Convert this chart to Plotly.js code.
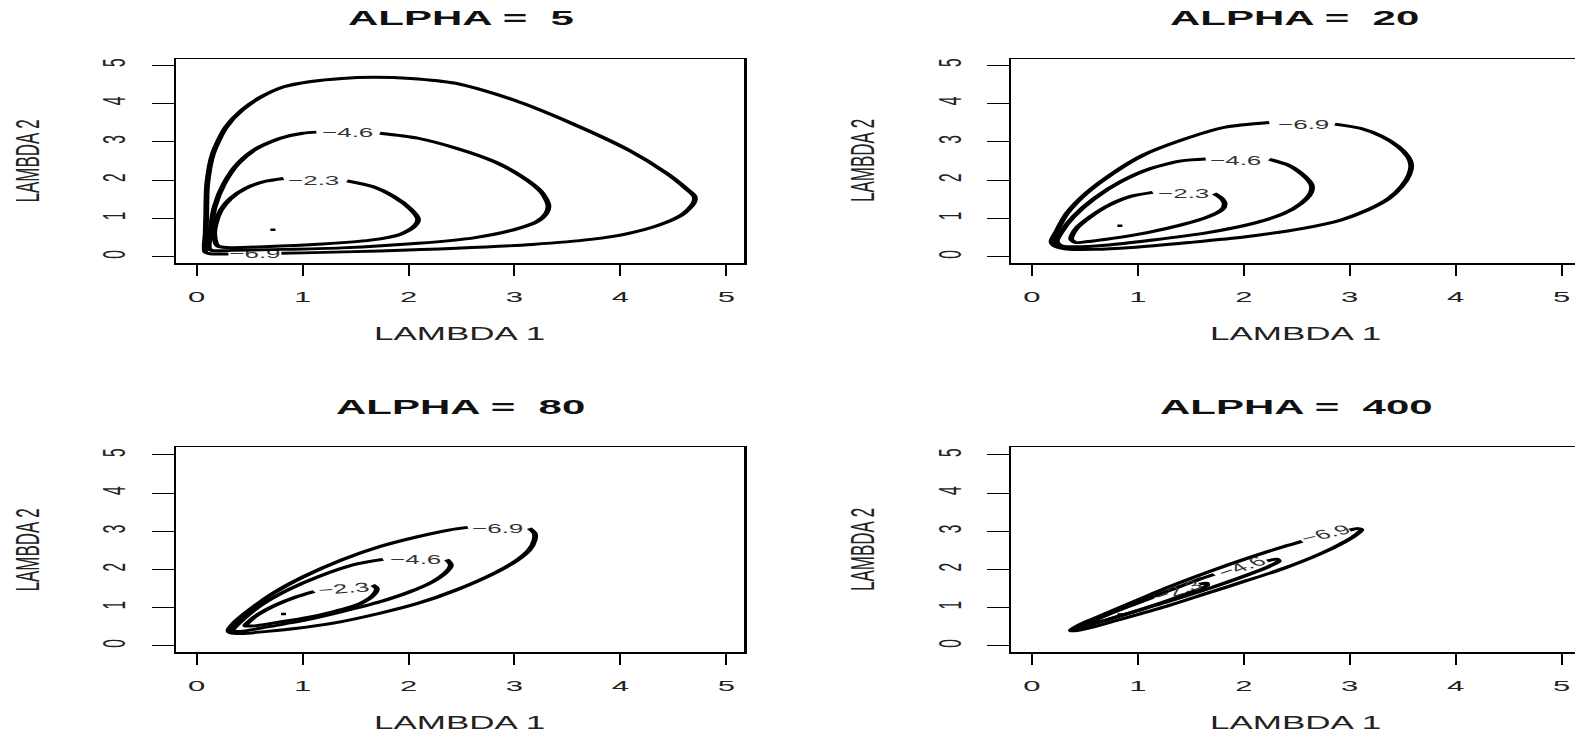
<!DOCTYPE html>
<html><head><meta charset="utf-8">
<script src="https://cdn.plot.ly/plotly-3.0.1.min.js"></script>
<style>
html,body{margin:0;padding:0;overflow:hidden;background:#fff;width:1575px;height:735px}
#wrap{width:1575px;height:735px;overflow:hidden;position:relative}
#plot{width:791px;height:735px;transform:scaleX(2);transform-origin:0 0;position:absolute;left:0;top:0}
</style>
</head><body><div id="wrap"><div id="plot"></div></div>
<script>
// ---- data ----
const alphas = ["5", "20", "80", "400"];
const levelLabels = ["\u22122.3", "\u22124.6", "\u22126.9"];
const tickVals = [0, 1, 2, 3, 4, 5];
const tickText = ["0", "1", "2", "3", "4", "5"];

// panel 1: ALPHA = 5
const p1_23x = [1.42, 1.66, 1.86, 2.02, 2.09, 2.05, 1.92, 1.64, 1.19, 0.64, 0.28, 0.20, 0.166, 0.18, 0.23, 0.32, 0.46, 0.64, 0.82];
const p1_23y = [1.98, 1.83, 1.57, 1.24, 0.98, 0.78, 0.58, 0.43, 0.33, 0.26, 0.24, 0.28, 0.57, 0.87, 1.22, 1.52, 1.78, 1.96, 2.04];
const p1_46x = [1.73, 2.09, 2.45, 2.81, 3.07, 3.25, 3.32, 3.30, 3.21, 2.99, 2.63, 2.09, 1.37, 0.82, 0.35, 0.15, 0.12, 0.137, 0.17, 0.26, 0.39, 0.57, 0.79, 1.00, 1.13];
const p1_46y = [3.22, 3.09, 2.83, 2.48, 2.09, 1.70, 1.35, 1.13, 0.91, 0.70, 0.50, 0.35, 0.23, 0.19, 0.165, 0.16, 0.20, 0.78, 1.30, 1.91, 2.43, 2.83, 3.09, 3.22, 3.25];
const p1_69x = [0.30, 0.20, 0.12, 0.083, 0.085, 0.09, 0.10, 0.155, 0.28, 0.43, 0.61, 0.82, 1.08, 1.37, 1.66, 2.02, 2.45, 2.99, 3.54, 4.08, 4.44, 4.62, 4.70, 4.69, 4.58, 4.37, 4.08, 3.72, 3.17, 2.45, 1.73, 1.00, 0.80];
const p1_69y = [0.07, 0.07, 0.08, 0.12, 0.60, 1.04, 1.91, 2.70, 3.39, 3.83, 4.17, 4.43, 4.57, 4.65, 4.68, 4.65, 4.52, 4.09, 3.48, 2.78, 2.17, 1.78, 1.57, 1.39, 1.09, 0.83, 0.61, 0.45, 0.32, 0.22, 0.15, 0.10, 0.09];
const p1_max = [0.72, 0.70];
const p1_lab = [[1.11, 2.00], [1.42, 3.23], [0.55, 0.06]];

// panel 2: ALPHA = 20
const p2_23x = [1.72, 1.79, 1.82, 1.79, 1.66, 1.41, 1.09, 0.76, 0.51, 0.41, 0.37, 0.42, 0.55, 0.73, 0.94, 1.14];
const p2_23y = [1.65, 1.52, 1.37, 1.22, 1.04, 0.83, 0.63, 0.48, 0.39, 0.37, 0.46, 0.74, 1.04, 1.35, 1.58, 1.68];
const p2_46x = [2.24, 2.42, 2.56, 2.64, 2.63, 2.54, 2.38, 2.09, 1.66, 1.12, 0.69, 0.41, 0.28, 0.235, 0.28, 0.39, 0.59, 0.84, 1.12, 1.41, 1.64];
const p2_46y = [2.54, 2.39, 2.13, 1.87, 1.65, 1.39, 1.13, 0.87, 0.63, 0.43, 0.30, 0.26, 0.28, 0.39, 0.65, 1.04, 1.52, 1.96, 2.30, 2.50, 2.55];
const p2_69x = [2.86, 3.10, 3.31, 3.46, 3.55, 3.58, 3.56, 3.49, 3.37, 3.17, 2.92, 2.56, 2.02, 1.48, 0.94, 0.59, 0.33, 0.23, 0.185, 0.23, 0.33, 0.51, 0.76, 1.05, 1.41, 1.81, 2.24];
const p2_69y = [3.46, 3.35, 3.13, 2.87, 2.61, 2.39, 2.13, 1.83, 1.52, 1.22, 0.96, 0.74, 0.52, 0.37, 0.24, 0.19, 0.20, 0.26, 0.39, 0.65, 1.13, 1.65, 2.17, 2.65, 3.04, 3.37, 3.50];
const p2_max = [0.83, 0.81];
const p2_lab = [[1.43, 1.65], [1.93, 2.52], [2.56, 3.46]];

// panel 3: ALPHA = 80
const p3_23x = [1.66, 1.70, 1.67, 1.55, 1.29, 1.01, 0.72, 0.54, 0.46, 0.46, 0.57, 0.75, 0.93, 1.11];
const p3_23y = [1.59, 1.50, 1.33, 1.11, 0.89, 0.72, 0.59, 0.52, 0.52, 0.54, 0.80, 1.07, 1.27, 1.42];
const p3_46x = [2.36, 2.40, 2.36, 2.23, 2.02, 1.73, 1.37, 1.01, 0.68, 0.46, 0.35, 0.34, 0.43, 0.61, 0.86, 1.15, 1.48, 1.76];
const p3_46y = [2.26, 2.12, 1.94, 1.68, 1.42, 1.15, 0.89, 0.66, 0.50, 0.39, 0.38, 0.41, 0.67, 1.07, 1.46, 1.81, 2.12, 2.26];
const p3_69x = [3.14, 3.19, 3.19, 3.14, 3.03, 2.81, 2.45, 2.09, 1.73, 1.29, 0.93, 0.64, 0.43, 0.32, 0.30, 0.35, 0.50, 0.72, 1.01, 1.37, 1.73, 2.09, 2.38, 2.56];
const p3_69y = [3.08, 2.95, 2.77, 2.51, 2.25, 1.90, 1.46, 1.11, 0.85, 0.59, 0.45, 0.37, 0.32, 0.34, 0.39, 0.59, 0.94, 1.37, 1.81, 2.25, 2.60, 2.86, 3.03, 3.10];
const p3_max = [0.82, 0.83];
const p3_lab = [[1.40, 1.50], [2.07, 2.25], [2.85, 3.08]];

// panel 4: ALPHA = 400
const p4_23x = [1.58, 1.65, 1.65, 1.52, 1.30, 1.05, 0.84, 0.66, 0.57, 0.55, 0.73, 0.94, 1.14];
const p4_23y = [1.61, 1.64, 1.57, 1.42, 1.20, 0.97, 0.79, 0.64, 0.58, 0.59, 0.83, 1.06, 1.27];
const p4_46x = [2.22, 2.31, 2.33, 2.24, 2.02, 1.66, 1.30, 0.94, 0.59, 0.47, 0.42, 0.50, 0.59, 0.94, 1.30, 1.60, 1.72];
const p4_46y = [2.22, 2.27, 2.22, 2.08, 1.84, 1.49, 1.17, 0.87, 0.58, 0.47, 0.45, 0.56, 0.68, 1.07, 1.45, 1.76, 1.87];
const p4_69x = [3.00, 3.08, 3.11, 3.07, 2.95, 2.74, 2.38, 2.02, 1.66, 1.30, 0.94, 0.59, 0.45, 0.37, 0.37, 0.45, 0.59, 0.94, 1.30, 1.66, 2.02, 2.38, 2.55];
const p4_69y = [3.03, 3.07, 3.04, 2.93, 2.72, 2.43, 2.03, 1.70, 1.38, 1.06, 0.77, 0.50, 0.41, 0.39, 0.41, 0.55, 0.72, 1.13, 1.55, 1.93, 2.28, 2.60, 2.74];
const p4_max = [0.83, 0.82];
const p4_lab = [[1.37, 1.45], [1.98, 2.07], [2.78, 2.93]];

// label rotation per panel (degrees) for levels -2.3, -4.6, -6.9
const labAngles = [[0, 0, 0], [0, 0, 0], [-8, 0, 0], [-32, -33, -25]];

// ---- build ----
const FONT = "Liberation Sans, Arial, Helvetica, sans-serif";
const panels = [
  {c: [[p1_23x, p1_23y], [p1_46x, p1_46y], [p1_69x, p1_69y]], m: p1_max, lab: p1_lab},
  {c: [[p2_23x, p2_23y], [p2_46x, p2_46y], [p2_69x, p2_69y]], m: p2_max, lab: p2_lab},
  {c: [[p3_23x, p3_23y], [p3_46x, p3_46y], [p3_69x, p3_69y]], m: p3_max, lab: p3_lab},
  {c: [[p4_23x, p4_23y], [p4_46x, p4_46y], [p4_69x, p4_69y]], m: p4_max, lab: p4_lab}
];
const axSuffix = ["", "2", "3", "4"];
const traces = [];
const annotations = [];

panels.forEach((p, i) => {
  const xa = "x" + axSuffix[i], ya = "y" + axSuffix[i];
  // panel 1: the -6.9 label sits under the other lines
  if (i === 0) {
    traces.push({type: "scatter", mode: "text", x: [p.lab[2][0]], y: [p.lab[2][1]],
      text: [levelLabels[2]], textfont: {family: FONT, size: 13, color: "#333"},
      xaxis: xa, yaxis: ya, hoverinfo: "skip", showlegend: false});
  }
  p.c.forEach((cc, k) => {
    traces.push({type: "scatter", mode: "lines", x: cc[0], y: cc[1], xaxis: xa, yaxis: ya,
      line: {color: "#000", width: 2.9, shape: "spline", smoothing: 0.8},
      hoverinfo: "skip", showlegend: false});
    if (!(i === 0 && k === 2)) {
      annotations.push({xref: xa, yref: ya, x: p.lab[k][0], y: p.lab[k][1], text: levelLabels[k],
        showarrow: false, textangle: labAngles[i][k],
        font: {family: FONT, size: 13, color: "#333"}, xanchor: "center", yanchor: "middle"});
    }
  });
  traces.push({type: "scatter", mode: "markers", x: [p.m[0]], y: [p.m[1]], xaxis: xa, yaxis: ya,
    marker: {symbol: "square", size: 2.5, color: "#000", line: {width: 0}},
    hoverinfo: "skip", showlegend: false});
});

const W = 1582; // full (stretched) width in px
const colDom = [[176 / W, 744.3 / W], [1011.3 / W, 1579.6 / W]];
const rowDom = [[(735 - 263.3) / 735, (735 - 59) / 735], [(735 - 652.3) / 735, (735 - 447.3) / 735]];
const yRanges = [[-0.172, 5.157], [-0.173, 5.20]];
const colCenter = [460 / W, 1295.5 / W];
const ylabX = [27 / W, 862 / W];
const titleY = [1 - 18 / 735, 1 - 406.3 / 735];
const xlabY = [1 - 334 / 735, 1 - 723 / 735];
const ylabY = [1 - 161 / 735, 1 - 550 / 735];

function xaxisDef(ci, ri, anchor) {
  return {domain: colDom[ci], range: [-0.195, 5.17], anchor: anchor,
    tickmode: "array", tickvals: tickVals, ticktext: tickText,
    ticks: "outside", ticklen: 11, tickwidth: 1, tickcolor: "#000",
    showline: true, mirror: true, linecolor: "#000", linewidth: 1.2,
    showgrid: false, zeroline: false, ticklabelstandoff: 8,
    tickfont: {family: FONT, size: 15.5, color: "#222"}, fixedrange: true};
}
function yaxisDef(ci, ri, anchor) {
  return {domain: rowDom[ri], range: yRanges[ri], anchor: anchor,
    tickmode: "array", tickvals: tickVals, ticktext: tickText, tickangle: -90,
    ticks: "outside", ticklen: 11, tickwidth: 1, tickcolor: "#000",
    showline: true, mirror: true, linecolor: "#000", linewidth: 1.2,
    showgrid: false, zeroline: false, ticklabelstandoff: 7,
    tickfont: {family: FONT, size: 15.5, color: "#222"}, fixedrange: true};
}

const layout = {
  width: 791, height: 735, margin: {l: 0, r: 0, t: 0, b: 0},
  paper_bgcolor: "#fff", plot_bgcolor: "#fff", showlegend: false,
  xaxis: xaxisDef(0, 0, "y"), yaxis: yaxisDef(0, 0, "x"),
  xaxis2: xaxisDef(1, 0, "y2"), yaxis2: yaxisDef(1, 0, "x2"),
  xaxis3: xaxisDef(0, 1, "y3"), yaxis3: yaxisDef(0, 1, "x3"),
  xaxis4: xaxisDef(1, 1, "y4"), yaxis4: yaxisDef(1, 1, "x4"),
  annotations: annotations
};

alphas.forEach((a, i) => {
  const ci = i % 2, ri = Math.floor(i / 2);
  annotations.push({xref: "paper", yref: "paper", x: colCenter[ci], y: titleY[ri],
    text: "<b>ALPHA = \u00a0" + a + "</b>", showarrow: false, xanchor: "center", yanchor: "middle",
    font: {family: FONT, size: 21, color: "#111"}});
  annotations.push({xref: "paper", yref: "paper", x: colCenter[ci], y: xlabY[ri],
    text: "LAMBDA 1", showarrow: false, xanchor: "center", yanchor: "middle",
    font: {family: FONT, size: 17.5, color: "#222"}});
  annotations.push({xref: "paper", yref: "paper", x: ylabX[ci], y: ylabY[ri],
    text: "LAMBDA 2", showarrow: false, xanchor: "center", yanchor: "middle", textangle: -90,
    font: {family: FONT, size: 17, color: "#222"}});
});

Plotly.newPlot("plot", traces, layout, {staticPlot: true, displayModeBar: false});
</script></body></html>
